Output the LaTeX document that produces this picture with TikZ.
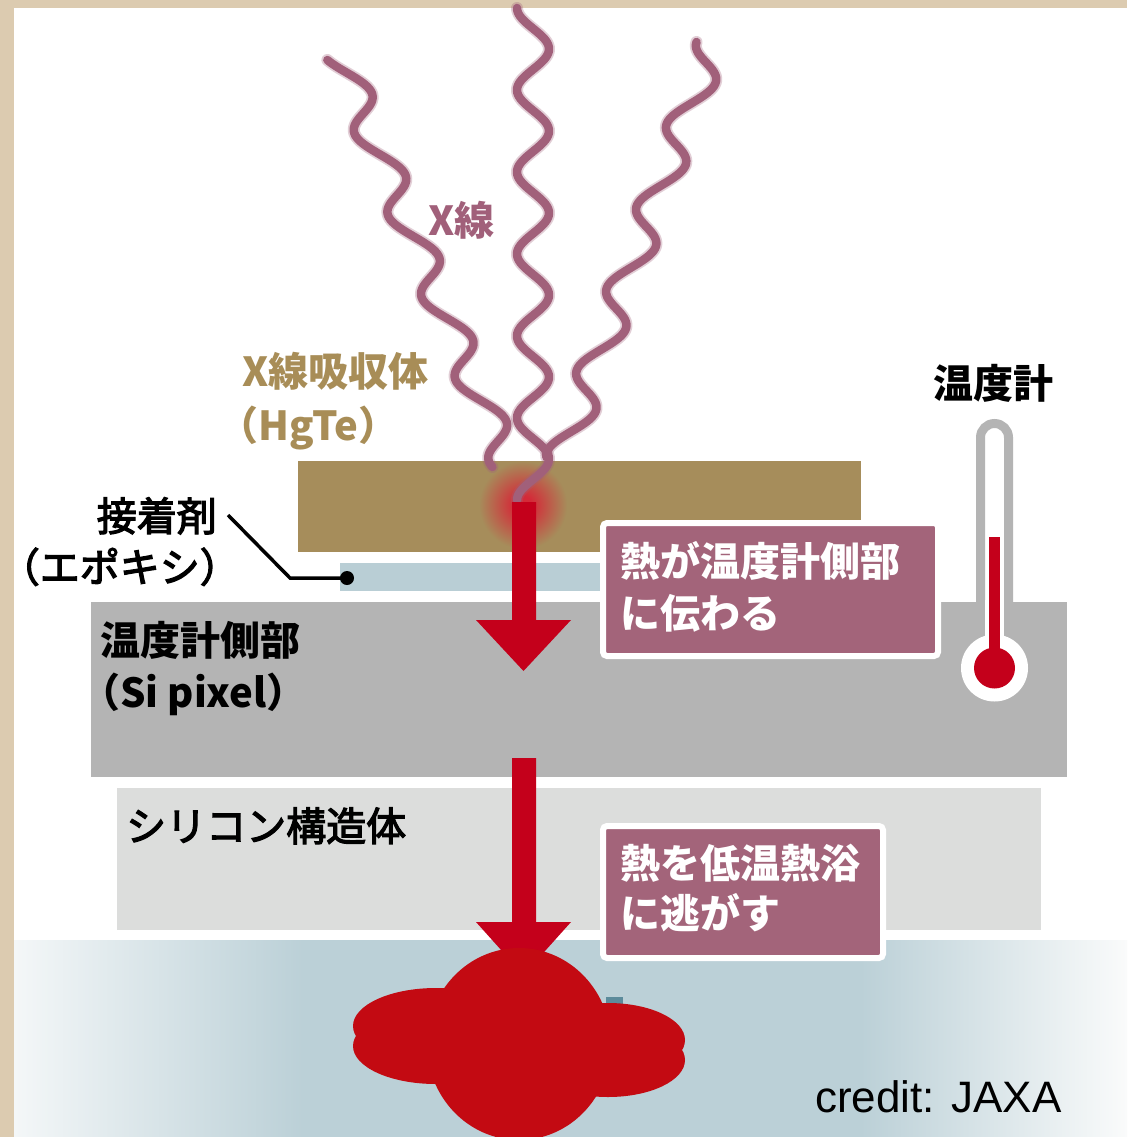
\documentclass[tikz,border=0pt]{standalone}
\usepackage{fontspec}
\newfontfamily\jp{Noto Sans CJK JP}
\newfontfamily\jpmid{Noto Sans CJK JP}[FakeBold=3]
\newfontfamily\creditfont{Liberation Sans}

\definecolor{paper}{HTML}{DCCBB0}
\definecolor{absorb}{HTML}{A68D5B}
\definecolor{epoxy}{HTML}{B9CED5}
\definecolor{sipix}{HTML}{B4B4B4}
\definecolor{sistruct}{HTML}{DCDDDC}
\definecolor{bath}{HTML}{BBD0D7}
\definecolor{bathL}{HTML}{F4F7F8}
\definecolor{bathR}{HTML}{FAFBFB}
\definecolor{heatred}{HTML}{C4001B}
\definecolor{blobred}{HTML}{C30A12}
\definecolor{glowred}{HTML}{D42A38}
\definecolor{boxmauve}{HTML}{A3647A}
\definecolor{wave}{HTML}{A1607A}
\definecolor{gold}{HTML}{A88D57}
\definecolor{teal}{HTML}{5C8B9B}

% the shaded path spans 25bp..75bp of these shadings
\pgfdeclarehorizontalshading{bathfade}{100bp}{color(0bp)=(bathL); color(25bp)=(bathL); color(38bp)=(bath); color(63bp)=(bath); color(75bp)=(bathR); color(100bp)=(bathR)}
\pgfdeclareradialshading{heatglow}{\pgfpoint{0bp}{0bp}}{color(0bp)=(glowred); color(5bp)=(glowred); color(25bp)=(absorb); color(50bp)=(absorb)}

% degrees of phase per pixel for a wave period of 82 px
\def\wk{4.3902}

\tikzset{
  label/.style={inner sep=0pt, font={\jp\bfseries\fontsize{40}{48}\selectfont}},
  midlabel/.style={inner sep=0pt, font={\jpmid\fontsize{40}{48}\selectfont}},
  boxtext/.style={label, text=white},
  msgbox/.style={fill=boxmauve, draw=white, line width=6pt, rounded corners=4pt, inner sep=0pt},
  xray/.style={draw=wave, line cap=round, line join=round},
  heatarrow/.style={fill=heatred},
}

\begin{document}
\begin{tikzpicture}[x=1pt,y=-1pt]
\useasboundingbox (0,0) rectangle (1127,1137);

% paper edge and white sheet
\fill[paper] (0,0) rectangle (1127,1137);
\fill[white] (14,8) rectangle (1127,1137);

% low-temperature bath
\shade[shading=bathfade] (14,940) rectangle (1127,1137);

% layers
\fill[sistruct] (117,788) rectangle (1041,930);
\fill[sipix] (91,602) rectangle (1067,777);
\fill[epoxy] (340,563) rectangle (625,591);
\fill[absorb] (298,461) rectangle (861,552);

% heat spot in the absorber
\begin{scope}
  \clip (298,461) rectangle (861,552);
  \shade[shading=heatglow] (523,505) circle (44);
\end{scope}

% incoming X-rays
\draw[xray, line width=12pt, opacity=0.3]
  plot[domain=60:467, samples=200, variable=\t] ({363+0.41*(\t-113)-17*cos(\wk*(\t-52))},{\t});
\draw[xray, line width=12pt, opacity=0.3]
  plot[domain=8:500, samples=240, variable=\t] ({533-16*cos(\wk*(\t-8))},{\t});
\draw[xray, line width=12pt, opacity=0.3]
  plot[domain=42:457, samples=200, variable=\t] ({696-0.365*(\t-90)-17*cos(\wk*(\t-42))},{\t});
\draw[xray, line width=8.5pt]
  plot[domain=60:467, samples=200, variable=\t] ({363+0.41*(\t-113)-17*cos(\wk*(\t-52))},{\t});
\draw[xray, line width=8.5pt]
  plot[domain=8:500, samples=240, variable=\t] ({533-16*cos(\wk*(\t-8))},{\t});
\draw[xray, line width=8.5pt]
  plot[domain=42:457, samples=200, variable=\t] ({696-0.365*(\t-90)-17*cos(\wk*(\t-42))},{\t});

% heat flow arrows
\fill[heatarrow] (512,502) -- (536,502) -- (536,620) -- (571,620) -- (523.5,671)
  -- (476,620) -- (512,620) -- cycle;
\fill[heatarrow] (512,758) -- (536,758) -- (536,922) -- (571,922) -- (523.5,975)
  -- (476,922) -- (512,922) -- cycle;

% heat bath splash
\fill[teal] (606,997) rectangle (623,1015);
\fill[blobred] (436,1026) ellipse [x radius=83, y radius=38];
\fill[blobred] (436,1046) ellipse [x radius=83, y radius=38];
\fill[blobred] (608,1040) ellipse [x radius=77, y radius=37];
\fill[blobred] (608,1060) ellipse [x radius=77, y radius=37];
\fill[blobred] (519,1044) ellipse [x radius=92, y radius=96];

% message boxes
\node[msgbox, minimum width=335pt, minimum height=133pt, anchor=north west] (heatBoxA) at (600,520) {};
\node[msgbox, minimum width=280pt, minimum height=132pt, anchor=north west] (heatBoxB) at (600,823) {};
\node[boxtext, anchor=base west] (heatBoxA1) at (620,576) {熱が温度計側部};
\node[boxtext, anchor=base west] (heatBoxA2) at (620,628) {に伝わる};
\node[boxtext, anchor=base west] (heatBoxB1) at (620,878) {熱を低温熱浴};
\node[boxtext, anchor=base west] (heatBoxB2) at (620,928) {に逃がす};

% thermometer
\filldraw[fill=white, draw=sipix, line width=9pt, rounded corners=14pt]
  (980.5,640) -- (980.5,423.5) -- (1008.5,423.5) -- (1008.5,640);
\fill[white] (985,600) rectangle (1004,660);
\fill[white] (994.5,668) circle (33.5);
\fill[heatred] (989,537) rectangle (1000,668);
\fill[heatred] (994.5,668) circle (20.5);
\node[label, anchor=base] (thermoLabel) at (993,398) {温度計};

% adhesive leader
\coordinate (leadStart) at (228,515);
\coordinate (leadBend) at (290,578);
\coordinate (epoxyDot) at (347,578);
\draw[line width=3.5pt] (leadStart) -- (leadBend) -- (epoxyDot);
\fill (epoxyDot) circle (7);

% labels
\node[label, text=wave, anchor=base west] (xrayLabel) at (428,235) {X線};
\node[label, text=gold, anchor=base west] (absorbLabelA) at (242,386) {X線吸収体};
\node[label, text=gold, anchor=base west] (absorbLabelB) at (218,440) {（HgTe）};
\node[midlabel, anchor=base east] (glueLabelA) at (217,531) {接着剤};
\node[midlabel, anchor=base east] (glueLabelB) at (240,582) {（エポキシ）};
\node[label, anchor=base west] (pixelLabelA) at (100,655) {温度計側部};
\node[label, anchor=base west] (pixelLabelB) at (80,707) {（Si pixel）};
\node[midlabel, anchor=base west] (structLabel) at (126,841) {シリコン構造体};
\node[inner sep=0pt, anchor=base west, font={\creditfont\fontsize{44}{50}\selectfont}] (credit) at (815,1112) {credit: JAXA};
\end{tikzpicture}
\end{document}
